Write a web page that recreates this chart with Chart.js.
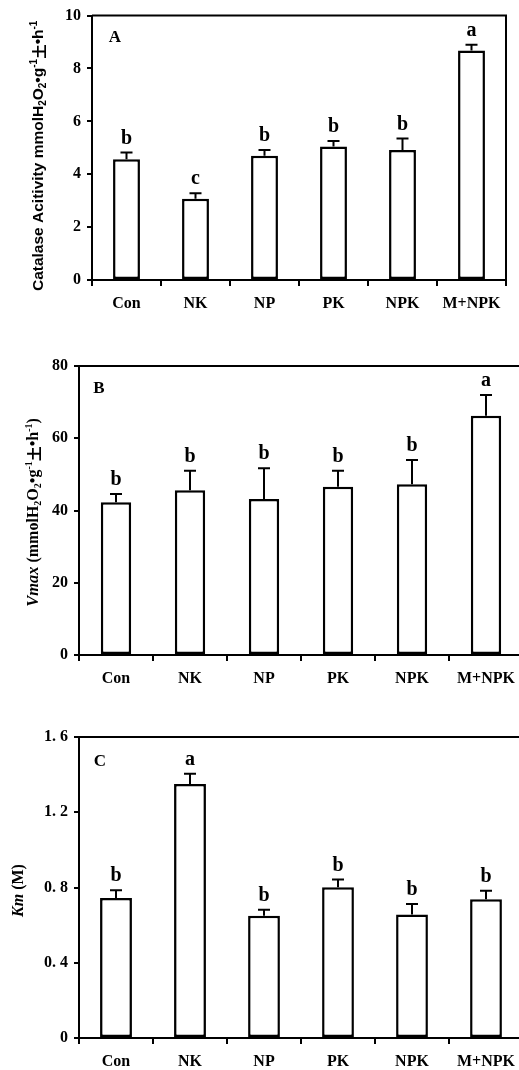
<!DOCTYPE html>
<html>
<head>
<meta charset="utf-8">
<script src="https://cdn.jsdelivr.net/npm/chart.js@4/dist/chart.umd.min.js"></script>
<style>
  body { margin: 0; background: #fff; overflow: hidden; width: 519px; height: 1070px; position: relative; }
  canvas { position: absolute; left: 0; }
</style>
</head>
<body>
<canvas id="chartA" width="519" height="330" style="top:0px"></canvas>
<canvas id="chartB" width="530" height="355" style="top:340px"></canvas>
<canvas id="chartC" width="530" height="370" style="top:700px"></canvas>
<script>
// treatments
const treatments = ["Con", "NK", "NP", "PK", "NPK", "M+NPK"];

// panel A - catalase activity
const catalase = [4.57, 3.07, 4.70, 5.05, 4.92, 8.68];
const catalaseErr = [0.25, 0.21, 0.22, 0.21, 0.43, 0.22];
const catalaseLetters = ["b", "c", "b", "b", "b", "a"];
const catalaseTicks = [0, 2, 4, 6, 8, 10];

// panel B - Vmax
const vmax = [42.3, 45.6, 43.2, 46.6, 47.3, 66.2];
const vmaxErr = [2.3, 5.4, 8.5, 4.4, 6.7, 5.8];
const vmaxLetters = ["b", "b", "b", "b", "b", "a"];
const vmaxTicks = [0, 20, 40, 60, 80];

// panel C - Km
const km = [0.744, 1.35, 0.65, 0.801, 0.657, 0.738];
const kmErr = [0.041, 0.055, 0.032, 0.041, 0.055, 0.045];
const kmLetters = ["b", "a", "b", "b", "b", "b"];
const kmTicks = [0, 0.4, 0.8, 1.2, 1.6];
const kmTickLabels = ["0", "0. 4", "0. 8", "1. 2", "1. 6"];

const SERIF = '"Liberation Serif", "Times New Roman", serif';
const NARROW = '"Liberation Sans Narrow", "Liberation Sans", Arial, sans-serif';
const CJK = '"Noto Sans CJK SC"';

// y title pieces: text, font, vertical shift (sub/sup)
function unitParts(size, fam) {
  const f = 'bold ' + size + 'px ' + fam;
  const s = 'bold ' + Math.round(size * 0.65) + 'px ' + fam;
  return [
    ["mmolH", f, 0], ["2", s, 4], ["O", f, 0], ["2", s, 4],
    ["\u2022g", f, 0], ["-1", s, -5], ["\u571F", 'bold ' + (size - 1) + 'px ' + CJK, 0],
    ["\u2022h", f, 0], ["-1", s, -5]
  ];
}

const titleA = [["Catalase Acitivity ", 'bold 15.5px ' + NARROW, 0]].concat(unitParts(15.5, NARROW));
const titleB = [["Vmax", 'italic bold 16.5px ' + SERIF, 0], [" (", 'bold 16px ' + SERIF, 0]]
  .concat(unitParts(16, SERIF)).concat([[")", 'bold 16px ' + SERIF, 0]]);
const titleC = [["Km", 'italic bold 16px ' + SERIF, 0], [" (M)", 'bold 16px ' + SERIF, 0]];

const panelPlugin = {
  id: 'panel',
  afterDraw(chart, args, opts) {
    const ctx = chart.ctx;
    const a = chart.chartArea;
    const ys = chart.scales.y;
    const vals = chart.data.datasets[0].data;
    ctx.save();
    ctx.strokeStyle = '#000';
    ctx.fillStyle = '#000';
    ctx.lineWidth = 2;

    // top and right frame
    ctx.beginPath();
    ctx.moveTo(a.left, a.top);
    ctx.lineTo(a.right, a.top);
    ctx.lineTo(a.right, a.bottom);
    ctx.stroke();

    // error bars + letters
    chart.getDatasetMeta(0).data.forEach((bar, i) => {
      const top = ys.getPixelForValue(vals[i] + opts.err[i]);
      ctx.beginPath();
      ctx.moveTo(bar.x, bar.y);
      ctx.lineTo(bar.x, top);
      ctx.moveTo(bar.x - 6, top);
      ctx.lineTo(bar.x + 6, top);
      ctx.stroke();
      ctx.font = 'bold 20px ' + SERIF;
      ctx.textAlign = 'center';
      ctx.textBaseline = 'middle';
      ctx.fillText(opts.letters[i], bar.x, top - 14);
    });

    // panel tag
    ctx.font = 'bold 17px ' + SERIF;
    ctx.textAlign = 'center';
    ctx.textBaseline = 'middle';
    ctx.fillText(opts.tag, a.left + opts.tagDx, a.top + opts.tagDy);

    // rotated y title
    let total = 0;
    opts.title.forEach(p => { ctx.font = p[1]; total += ctx.measureText(p[0]).width; });
    ctx.translate(opts.titleX, (a.top + a.bottom) / 2 + opts.titleShift);
    ctx.rotate(-Math.PI / 2);
    ctx.textAlign = 'left';
    let x = -total / 2;
    opts.title.forEach(p => {
      ctx.font = p[1];
      ctx.fillText(p[0], x, p[2]);
      x += ctx.measureText(p[0]).width;
    });
    ctx.restore();
  }
};

function makePanel(id, values, cfg) {
  return new Chart(document.getElementById(id), {
    type: 'bar',
    data: {
      labels: treatments,
      datasets: [{
        data: values,
        backgroundColor: '#fff',
        borderColor: '#000',
        borderWidth: 2.5,
        borderSkipped: false,
        barPercentage: cfg.barPct,
        categoryPercentage: 1
      }]
    },
    options: {
      responsive: false,
      animation: false,
      devicePixelRatio: 1,
      layout: { padding: { top: cfg.padTop, right: cfg.padRight, left: 0, bottom: 0 } },
      plugins: {
        legend: { display: false },
        tooltip: { enabled: false },
        panel: {
          err: cfg.err, letters: cfg.letters, tag: cfg.tag,
          tagDx: cfg.tagDx, tagDy: cfg.tagDy,
          title: cfg.title, titleX: cfg.titleX, titleShift: cfg.titleShift
        }
      },
      scales: {
        x: {
          grid: { display: true, drawOnChartArea: false, color: '#000', lineWidth: 2, tickLength: 6, offset: true },
          border: { color: '#000', width: 2 },
          ticks: { color: '#000', font: { family: SERIF, size: 16, weight: 'bold' }, padding: 8 },
          afterFit: s => { s.height = cfg.xHeight; }
        },
        y: {
          min: cfg.ticks[0],
          max: cfg.ticks[cfg.ticks.length - 1],
          afterBuildTicks: s => { s.ticks = cfg.ticks.map(v => ({ value: v })); },
          grid: { display: true, drawOnChartArea: false, color: '#000', lineWidth: 2, tickLength: 5 },
          border: { color: '#000', width: 2 },
          ticks: {
            color: '#000',
            font: { family: SERIF, size: 16, weight: 'bold' },
            padding: 6,
            callback: (v, i) => cfg.tickLabels ? cfg.tickLabels[i] : String(v)
          },
          afterFit: s => { s.width = cfg.yWidth; }
        }
      }
    },
    plugins: [panelPlugin]
  });
}

makePanel('chartA', catalase, {
  err: catalaseErr, letters: catalaseLetters, ticks: catalaseTicks, tag: 'A',
  barPct: 0.39, padTop: 14, padRight: 13, xHeight: 50, yWidth: 92,
  tagDx: 23, tagDy: 22, title: titleA, titleX: 39, titleShift: 8
});

makePanel('chartB', vmax, {
  err: vmaxErr, letters: vmaxLetters, ticks: vmaxTicks, tag: 'B',
  barPct: 0.41, padTop: 26, padRight: 7, xHeight: 40, yWidth: 79,
  tagDx: 20, tagDy: 23, title: titleB, titleX: 34, titleShift: 2
});

makePanel('chartC', km, {
  err: kmErr, letters: kmLetters, ticks: kmTicks, tickLabels: kmTickLabels, tag: 'C',
  barPct: 0.43, padTop: 37, padRight: 7, xHeight: 32, yWidth: 79,
  tagDx: 21, tagDy: 25, title: titleC, titleX: 19, titleShift: 3
});
</script>
</body>
</html>
